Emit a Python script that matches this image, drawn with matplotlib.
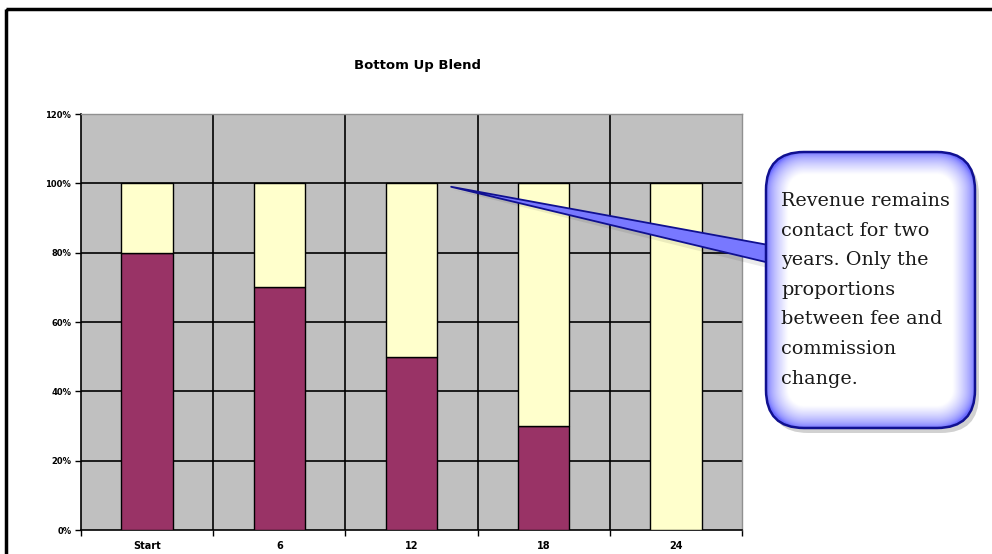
import numpy as np
import matplotlib
matplotlib.use("Agg")
import matplotlib.pyplot as plt
from matplotlib.patches import FancyBboxPatch, Polygon, Rectangle

# data
periods = ["Start", "6", "12", "18", "24"]
commission = [80, 70, 50, 30, 0]
fee = [20, 30, 50, 70, 100]
y_ticks = [0, 20, 40, 60, 80, 100, 120]
note = "Revenue remains\ncontact for two\nyears. Only the\nproportions\nbetween fee and\ncommission\nchange."

W, H = 992, 554
fig = plt.figure(figsize=(W / 100, H / 100), dpi=100)
fig.patch.set_facecolor("white")

ax = fig.add_axes([81 / W, 1 - 530 / H, 661 / W, 416 / H])
ax.set_facecolor("#c0c0c0")
x = np.arange(len(periods))
ax.bar(x, commission, width=0.39, color="#993366", edgecolor="black", linewidth=1, zorder=3)
ax.bar(x, fee, width=0.39, bottom=commission, color="#ffffcc", edgecolor="black", linewidth=1, zorder=3)

ax.set_xlim(-0.5, len(periods) - 0.5)
ax.set_ylim(0, 120)
ax.set_yticks(y_ticks)
ax.set_yticklabels([f"{v}%" for v in y_ticks], fontsize=6, fontweight="bold")
ax.set_xticks(x)
ax.set_xticklabels(periods, fontsize=7, fontweight="bold")
ax.set_xticks(np.arange(len(periods) + 1) - 0.5, minor=True)
ax.tick_params(axis="x", which="major", length=0, pad=8)
ax.tick_params(axis="x", which="minor", length=4, width=1, direction="out")
ax.tick_params(axis="y", length=4, width=1, direction="out", pad=3)

for v in y_ticks[1:-1]:
    ax.axhline(v, color="black", linewidth=1.2, zorder=1)
for b in np.arange(1, len(periods)) - 0.5:
    ax.axvline(b, color="black", linewidth=1.2, zorder=1)

for s in ["left", "bottom"]:
    ax.spines[s].set_color("black")
    ax.spines[s].set_linewidth(1.2)
for s in ["top", "right"]:
    ax.spines[s].set_color("#909090")
    ax.spines[s].set_linewidth(1)

fig.text(418 / W, 1 - 66 / H, "Bottom Up Blend", ha="center", va="center",
         fontsize=9.5, fontweight="bold")

# overlay in pixel coordinates for the frame and the callout
ov = fig.add_axes([0, 0, 1, 1], zorder=5)
ov.set_xlim(0, W)
ov.set_ylim(H, 0)
ov.axis("off")
ov.patch.set_alpha(0)

ov.add_patch(Rectangle((6, 9), 1100, 700, fill=False, edgecolor="black", linewidth=2.5))

# pointer tip sits just under the 100% line near the "12" bar
tip = ax.transData.transform((2.3, 99))
tip = ov.transData.inverted().transform(tip)

bx0, by0, bx1, by1 = 766, 152, 975, 428
radius = 38

# shadow
ov.add_patch(FancyBboxPatch((bx0 + 4, by0 + 5), bx1 - bx0, by1 - by0,
                            boxstyle=f"round,pad=0,rounding_size={radius}",
                            facecolor="#000000", alpha=0.18, edgecolor="none"))
ov.add_patch(Polygon([(tip[0] + 2, tip[1] + 3), (bx0 + 10, 250), (bx0 + 10, 270)],
                     closed=True, facecolor="#000000", alpha=0.08, edgecolor="none"))

# pointer wedge
ov.add_patch(Polygon([tuple(tip), (bx0 + 8, 246), (bx0 + 8, 264)], closed=True,
                     facecolor="#7878ff", edgecolor="#101090", linewidth=1.3, joinstyle="round"))

box = FancyBboxPatch((bx0, by0), bx1 - bx0, by1 - by0,
                     boxstyle=f"round,pad=0,rounding_size={radius}",
                     facecolor="none", edgecolor="#101090", linewidth=1.8, zorder=4)
ov.add_patch(box)

# soft blue-to-white fill inside the box
gx = np.linspace(bx0, bx1, 220)
gy = np.linspace(by0, by1, 280)
GX, GY = np.meshgrid(gx, gy)
dx = np.minimum(GX - bx0, bx1 - GX)
dy = np.minimum(GY - by0, by1 - GY)
cx = np.clip(radius - dx, 0, None)
cy = np.clip(radius - dy, 0, None)
d = np.minimum(dx, dy)
corner = (cx > 0) & (cy > 0)
d = np.where(corner, radius - np.hypot(cx, cy), d)
t = np.clip(d / 22, 0, 1) ** 0.6
edge_col = np.array([0.42, 0.42, 1.0])
img = edge_col[None, None, :] * (1 - t[..., None]) + t[..., None]
im = ov.imshow(img, extent=(bx0, bx1, by1, by0), origin="upper", zorder=3,
               interpolation="bilinear", aspect="auto")
im.set_clip_path(box)

ov.text(781, 192, note, ha="left", va="top", fontsize=13.8, family="DejaVu Serif",
        color="#1a1a1a", linespacing=1.83, zorder=6)

fig.savefig("out.png", dpi=100, facecolor="white")
